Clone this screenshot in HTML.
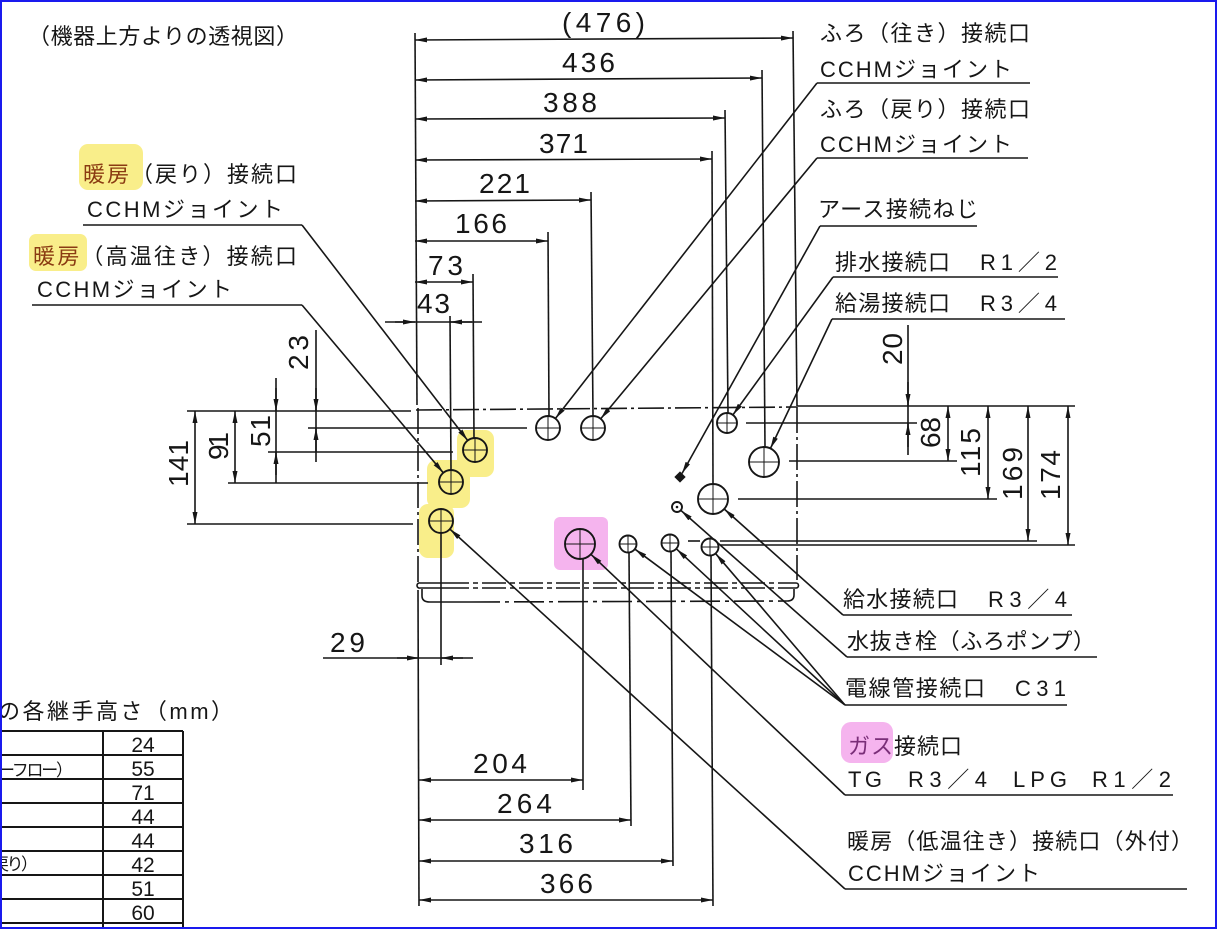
<!DOCTYPE html>
<html><head><meta charset="utf-8"><style>
html,body{margin:0;padding:0;background:#fff}
#wrap{position:relative;width:1217px;height:929px;overflow:hidden;background:#fff}
#bd{position:absolute;left:0;top:0;width:1217px;height:929px;box-sizing:border-box;border:2px solid #1a1aee}
.j{font-family:"Liberation Sans","Noto Sans CJK JP",sans-serif;font-size:22px;fill:#161616}
.n{font-family:"Liberation Sans",sans-serif;font-size:28px;fill:#161616}
.t{font-family:"Liberation Sans",sans-serif;font-size:21px;fill:#161616}
.ts{font-family:"Liberation Sans","Noto Sans CJK JP",sans-serif;font-size:17px;fill:#161616}
</style></head><body><div id="wrap">
<svg width="1217" height="929" viewBox="0 0 1217 929" xmlns="http://www.w3.org/2000/svg">
<defs>
<marker id="a" viewBox="0 0 12 5" refX="12" refY="2.5" markerWidth="12" markerHeight="5" orient="auto-start-reverse" markerUnits="userSpaceOnUse"><path d="M0,0 L12,2.5 L0,5 z" fill="#161616"/></marker>
</defs>
<!-- highlights -->
<g fill="#f9ee8a">
<rect x="79" y="144" width="64" height="46" rx="9"/>
<rect x="29" y="234" width="58" height="37" rx="7"/>
<rect x="457" y="430" width="37" height="47" rx="9"/>
<rect x="427" y="460" width="43" height="48" rx="9"/>
<rect x="419" y="504" width="35" height="54" rx="9"/>
</g>
<g fill="#f5b4ee">
<rect x="554" y="517" width="54" height="53" rx="6"/>
<rect x="841" y="722" width="52" height="41" rx="10"/>
</g>
<g stroke="#161616" stroke-width="1.6" fill="none">
<!-- main left ext line -->
<line x1="415" y1="33" x2="417" y2="405"/>
<line x1="418" y1="408" x2="418" y2="586" stroke-dasharray="26 4 3 4"/>
<line x1="418" y1="590" x2="419" y2="906"/>
<!-- top dims -->
<line x1="415" y1="40" x2="793" y2="38" marker-start="url(#a)" marker-end="url(#a)"/>
<line x1="415" y1="80" x2="762" y2="78" marker-start="url(#a)" marker-end="url(#a)"/>
<line x1="415" y1="119" x2="725" y2="118" marker-start="url(#a)" marker-end="url(#a)"/>
<line x1="415" y1="160" x2="712" y2="159" marker-start="url(#a)" marker-end="url(#a)"/>
<line x1="415" y1="201" x2="591" y2="200" marker-start="url(#a)" marker-end="url(#a)"/>
<line x1="415" y1="241" x2="548" y2="241" marker-start="url(#a)" marker-end="url(#a)"/>
<line x1="415" y1="282" x2="473" y2="282" marker-start="url(#a)" marker-end="url(#a)"/>
<line x1="385" y1="322" x2="482" y2="322"/>
<line x1="395" y1="322" x2="415" y2="322" marker-end="url(#a)"/>
<line x1="472" y1="322" x2="450" y2="322" marker-end="url(#a)"/>
<!-- vertical ext lines top -->
<line x1="793" y1="31" x2="797" y2="406"/>
<line x1="762" y1="70" x2="765" y2="447"/>
<line x1="725" y1="110" x2="728" y2="413"/>
<line x1="712" y1="151" x2="713" y2="484"/>
<line x1="591" y1="192" x2="593" y2="416"/>
<line x1="548" y1="232" x2="549" y2="416"/>
<line x1="473" y1="274" x2="474" y2="438"/>
<line x1="450" y1="316" x2="451" y2="470"/>
<!-- box -->
<line x1="187" y1="411" x2="411" y2="411"/>
<line x1="416" y1="410" x2="797" y2="407" stroke-dasharray="26 4 3 4"/>
<line x1="797" y1="406" x2="1075" y2="406"/>
<line x1="797" y1="407" x2="797" y2="580" stroke-dasharray="26 4 3 4"/>
<path d="M420,583 L445,583 M420,588 L445,588 M417,585.5 A2.5,2.5 0 0 1 420,583 M417,585.5 A2.5,2.5 0 0 0 420,588"/>
<line x1="445" y1="583" x2="796" y2="583" stroke-dasharray="24 4 5 4"/>
<line x1="445" y1="588" x2="796" y2="588" stroke-dasharray="24 4 5 4"/>
<path d="M796,583 A2.5,2.5 0 0 1 796,588"/>
<path d="M422,589 L422,596 Q422,602 430,602 L470,602"/>
<line x1="470" y1="602" x2="787" y2="601" stroke-dasharray="30 5 4 5"/>
<path d="M787,601 Q794,601 794,595 L794,589"/>
<!-- left horizontal ext lines -->
<line x1="308" y1="428" x2="527" y2="428"/>
<line x1="268" y1="452" x2="453" y2="452"/>
<line x1="228" y1="483" x2="428" y2="483"/>
<line x1="187" y1="524" x2="413" y2="524"/>
<!-- left vertical dims -->
<line x1="195" y1="411" x2="195" y2="524" marker-start="url(#a)" marker-end="url(#a)"/>
<line x1="235" y1="411" x2="235" y2="483" marker-start="url(#a)" marker-end="url(#a)"/>
<line x1="276" y1="378" x2="276" y2="483"/>
<line x1="276" y1="388" x2="276" y2="411" marker-end="url(#a)"/>
<line x1="276" y1="475" x2="276" y2="452" marker-end="url(#a)"/>
<line x1="316" y1="330" x2="316" y2="462"/>
<line x1="316" y1="388" x2="316" y2="411" marker-end="url(#a)"/>
<line x1="316" y1="452" x2="316" y2="428" marker-end="url(#a)"/>
<!-- right ext lines -->
<line x1="746" y1="423" x2="917" y2="423"/>
<line x1="789" y1="461" x2="957" y2="461"/>
<line x1="738" y1="499" x2="997" y2="499"/>
<line x1="688" y1="541" x2="700" y2="541"/>
<line x1="720" y1="541" x2="1037" y2="541"/>
<line x1="720" y1="545" x2="1075" y2="545"/>
<!-- right vertical dims -->
<line x1="908" y1="325" x2="908" y2="455"/>
<line x1="908" y1="382" x2="908" y2="406" marker-end="url(#a)"/>
<line x1="908" y1="447" x2="908" y2="423" marker-end="url(#a)"/>
<line x1="948" y1="406" x2="948" y2="461" marker-start="url(#a)" marker-end="url(#a)"/>
<line x1="988" y1="406" x2="988" y2="499" marker-start="url(#a)" marker-end="url(#a)"/>
<line x1="1028" y1="406" x2="1028" y2="541" marker-start="url(#a)" marker-end="url(#a)"/>
<line x1="1068" y1="406" x2="1068" y2="545" marker-start="url(#a)" marker-end="url(#a)"/>
<!-- bottom vertical ext -->
<line x1="441" y1="533" x2="441" y2="665"/>
<line x1="583" y1="559" x2="583" y2="790"/>
<line x1="629" y1="553" x2="631" y2="826"/>
<line x1="671" y1="552" x2="673" y2="866"/>
<line x1="711" y1="556" x2="713" y2="906"/>
<!-- bottom dims -->
<line x1="419" y1="780" x2="583" y2="780" marker-start="url(#a)" marker-end="url(#a)"/>
<line x1="419" y1="820" x2="631" y2="820" marker-start="url(#a)" marker-end="url(#a)"/>
<line x1="419" y1="861" x2="673" y2="861" marker-start="url(#a)" marker-end="url(#a)"/>
<line x1="419" y1="900" x2="713" y2="900" marker-start="url(#a)" marker-end="url(#a)"/>
<line x1="323" y1="658" x2="473" y2="658"/>
<line x1="397" y1="658" x2="419" y2="658" marker-end="url(#a)"/>
<line x1="463" y1="658" x2="441" y2="658" marker-end="url(#a)"/>
<!-- label underlines -->
<line x1="83" y1="225" x2="302" y2="225"/>
<line x1="32" y1="305" x2="302" y2="305"/>
<line x1="817" y1="83" x2="1030" y2="83"/>
<line x1="817" y1="158" x2="1028" y2="158"/>
<line x1="820" y1="226" x2="977" y2="226"/>
<line x1="833" y1="277" x2="1058" y2="277"/>
<line x1="832" y1="319" x2="1065" y2="319"/>
<line x1="843" y1="615" x2="1072" y2="615"/>
<line x1="847" y1="657" x2="1097" y2="657"/>
<line x1="845" y1="705" x2="1067" y2="705"/>
<line x1="845" y1="795" x2="1173" y2="795"/>
<line x1="845" y1="889" x2="1187" y2="889"/>
<!-- leaders -->
<line x1="302" y1="225" x2="467.7" y2="440.5" marker-end="url(#a)"/>
<line x1="302" y1="305" x2="443.3" y2="472.8" marker-end="url(#a)"/>
<line x1="845" y1="889" x2="449.9" y2="529.1" marker-end="url(#a)"/>
<line x1="817" y1="83" x2="555.4" y2="418.5" marker-end="url(#a)"/>
<line x1="817" y1="158" x2="600.7" y2="418.8" marker-end="url(#a)"/>
<line x1="820" y1="226" x2="682" y2="473.5" marker-end="url(#a)"/>
<line x1="833" y1="277" x2="732.9" y2="414.9" marker-end="url(#a)"/>
<line x1="832" y1="319" x2="770.4" y2="448.5" marker-end="url(#a)"/>
<line x1="843" y1="615" x2="724.2" y2="509" marker-end="url(#a)"/>
<line x1="847" y1="657" x2="681" y2="510.5" marker-end="url(#a)"/>
<line x1="845" y1="705" x2="635" y2="549.2" marker-end="url(#a)"/>
<line x1="845" y1="705" x2="676.6" y2="549.1" marker-end="url(#a)"/>
<line x1="845" y1="705" x2="715.8" y2="553.8" marker-end="url(#a)"/>
<line x1="845" y1="795" x2="590.9" y2="554.3" marker-end="url(#a)"/>
<!-- circles -->
<g stroke-width="1.9">
<circle cx="475" cy="450" r="12"/>
<circle cx="451" cy="482" r="12"/>
<circle cx="441" cy="521" r="12"/>
<circle cx="548" cy="428" r="12"/>
<circle cx="593" cy="428" r="12"/>
<circle cx="727" cy="423" r="10"/>
<circle cx="764" cy="462" r="15"/>
<circle cx="677" cy="507" r="5"/>
<circle cx="713" cy="499" r="15"/>
<circle cx="580" cy="544" r="15"/>
<circle cx="628" cy="544" r="8.5"/>
<circle cx="670" cy="543" r="8.5"/>
<circle cx="710" cy="547" r="8.5"/>
</g>
<g stroke-width="1">
<path d="M463,450h24M475,438v24"/>
<path d="M439,482h24M451,470v24"/>
<path d="M429,521h24M441,509v24"/>
<path d="M536,428h24M548,416v24"/>
<path d="M581,428h24M593,416v24"/>
<path d="M717,423h20M727,413v20"/>
<path d="M749,462h30M764,447v30"/>
<path d="M698,499h30M713,484v30"/>
<path d="M565,544h30M580,529v30"/>
<path d="M619.5,544h17M628,535.5v17"/>
<path d="M661.5,543h17M670,534.5v17"/>
<path d="M701.5,547h17M710,538.5v17"/>
</g>
</g>
<circle cx="677" cy="507" r="1.3" fill="#161616"/>
<rect x="676" y="473" width="8" height="8" fill="#161616" transform="rotate(45 680 477)"/>
<!-- table -->
<g stroke="#161616" stroke-width="2" fill="none">
<line x1="0" y1="731" x2="183" y2="731"/>
<line x1="0" y1="755" x2="183" y2="755"/>
<line x1="0" y1="779" x2="183" y2="779"/>
<line x1="0" y1="803" x2="183" y2="803"/>
<line x1="0" y1="827" x2="183" y2="827"/>
<line x1="0" y1="851" x2="183" y2="851"/>
<line x1="0" y1="875" x2="183" y2="875"/>
<line x1="0" y1="899" x2="183" y2="899"/>
<line x1="0" y1="923" x2="183" y2="923"/>
<line x1="103" y1="731" x2="103" y2="929"/>
<line x1="183" y1="731" x2="183" y2="929"/>
</g>
<text class="j" x="-2" y="719" textLength="235">の各継手高さ（mm）</text>
<g class="t" text-anchor="middle">
<text x="143" y="752">24</text>
<text x="143" y="776">55</text>
<text x="143" y="800">71</text>
<text x="143" y="824">44</text>
<text x="143" y="848">44</text>
<text x="143" y="872">42</text>
<text x="143" y="896">51</text>
<text x="143" y="920">60</text>
<text x="143" y="944">53</text>
</g>
<text class="ts" x="-2" y="776" textLength="75">ーフロー）</text>
<text class="ts" x="-8" y="870" textLength="46">戻り）</text>
<!-- numbers -->
<g class="n">
<text x="562" y="32" textLength="83">(476)</text>
<text x="562" y="72" textLength="53">436</text>
<text x="543" y="112" textLength="54">388</text>
<text x="539" y="153" textLength="49">371</text>
<text x="479" y="193" textLength="51">221</text>
<text x="455" y="233" textLength="52">166</text>
<text x="428" y="275" textLength="35">73</text>
<text x="417" y="313" textLength="33">43</text>
<text x="330" y="652" textLength="35">29</text>
<text x="473" y="773" textLength="54">204</text>
<text x="497" y="813" textLength="55">264</text>
<text x="519" y="853" textLength="54">316</text>
<text x="540" y="893" textLength="53">366</text>
<text transform="translate(188,487) rotate(-90)" textLength="47">141</text>
<text transform="translate(228,460) rotate(-90)" textLength="28">91</text>
<text transform="translate(270,447) rotate(-90)" textLength="32">51</text>
<text transform="translate(308,370) rotate(-90)" textLength="35">23</text>
<text transform="translate(902,365) rotate(-90)" textLength="32">20</text>
<text transform="translate(940,448) rotate(-90)" textLength="31">68</text>
<text transform="translate(980,477) rotate(-90)" textLength="49">115</text>
<text transform="translate(1022,500) rotate(-90)" textLength="53">169</text>
<text transform="translate(1060,500) rotate(-90)" textLength="50">174</text>
</g>
<!-- labels -->
<g class="j">
<text x="28" y="44" textLength="270">（機器上方よりの透視図）</text>
<text x="83" y="182" textLength="214"><tspan fill="#8a3b12">暖房</tspan>（戻り）接続口</text>
<text x="87" y="217" textLength="196">CCHMジョイント</text>
<text x="33" y="264" textLength="264"><tspan fill="#8a3b12">暖房</tspan>（高温往き）接続口</text>
<text x="37" y="297" textLength="195">CCHMジョイント</text>
<text x="820" y="41" textLength="210">ふろ（往き）接続口</text>
<text x="820" y="77" textLength="192">CCHMジョイント</text>
<text x="820" y="117" textLength="210">ふろ（戻り）接続口</text>
<text x="820" y="152" textLength="192">CCHMジョイント</text>
<text x="818" y="217" textLength="160">アース接続ねじ</text>
<text x="835" y="270" textLength="115">排水接続口</text>
<text x="980" y="270" textLength="77">R1／2</text>
<text x="835" y="311" textLength="115">給湯接続口</text>
<text x="980" y="311" textLength="77">R3／4</text>
<text x="843" y="607" textLength="115">給水接続口</text>
<text x="988" y="607" textLength="79">R3／4</text>
<text x="847" y="649" textLength="248">水抜き栓（ふろポンプ）</text>
<text x="845" y="696" textLength="140">電線管接続口</text>
<text x="1015" y="696" textLength="51">C31</text>
<text x="848" y="754" textLength="114"><tspan fill="#7a2e78">ガス</tspan>接続口</text>
<text x="848" y="787" textLength="34">TG</text>
<text x="908" y="787" textLength="79">R3／4</text>
<text x="1013" y="787" textLength="54">LPG</text>
<text x="1092" y="787" textLength="79">R1／2</text>
<text x="847" y="849" textLength="346">暖房（低温往き）接続口（外付）</text>
<text x="848" y="881" textLength="192">CCHMジョイント</text>
</g>
</svg>
<div id="bd"></div>
</div></body></html>
